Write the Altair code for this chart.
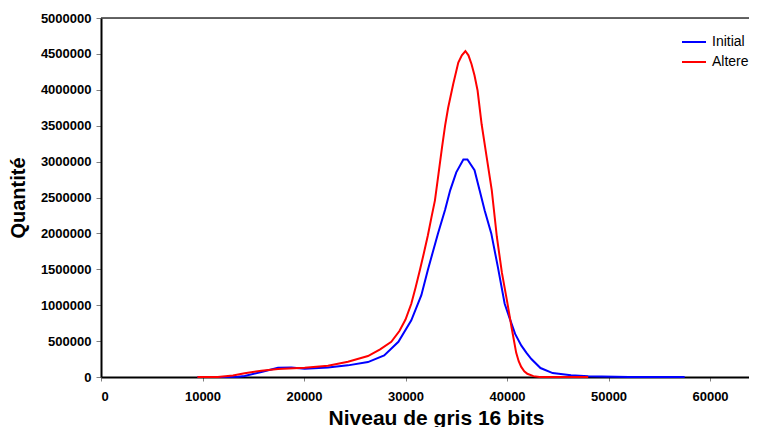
import altair as alt
import pandas as pd

# Grey level (16 bits) and counts
initial_x = [9500, 12000, 13500, 14150, 15800, 17440, 18750, 20070, 22360, 24330,
             26300, 27900, 29300, 30570, 31560, 32200, 33200, 33900, 34400, 35000,
             35700, 36100, 36800, 37300, 37800, 38450, 39100, 39770, 40400, 40800,
             41400, 41900, 42400, 43300, 44500, 46300, 48000, 52000, 57500]
initial_y = [0, 0, 5000, 14000, 70000, 128000, 132000, 116000, 134000, 162000,
             208000, 301000, 490000, 790000, 1140000, 1490000, 2000000, 2330000, 2600000, 2850000,
             3030000, 3030000, 2880000, 2600000, 2320000, 2000000, 1530000, 1020000, 760000, 600000,
             440000, 340000, 250000, 125000, 55000, 24000, 10000, 0, 0]

altere_x = [9500, 11500, 13000, 14150, 15800, 17440, 20070, 22360, 24330, 26300,
            27500, 28600, 29400, 30000, 30570, 31000, 31400, 31800, 32200, 32550,
            32900, 33250, 33600, 33900, 34200, 34700, 35200, 35550, 35900, 36200,
            36500, 36800, 37100, 37500, 38000, 38500, 39000, 39500, 40000, 40450,
            40900, 41150, 41400, 41700, 42000, 42600, 43200, 45000, 48000]
altere_y = [0, 0, 20000, 51000, 88000, 111000, 130000, 157000, 213000, 292000,
            385000, 490000, 640000, 800000, 1020000, 1250000, 1480000, 1720000, 1970000, 2220000,
            2460000, 2830000, 3200000, 3500000, 3750000, 4080000, 4380000, 4480000, 4540000, 4480000,
            4360000, 4200000, 3990000, 3520000, 3060000, 2600000, 1950000, 1450000, 1060000, 690000,
            340000, 220000, 140000, 80000, 45000, 12000, 0, 0, 0]

series_names = ["Initial", "Altere"]
series_colors = ["#0000FF", "#FF0000"]
x_ticks = [0, 10000, 20000, 30000, 40000, 50000, 60000]
y_ticks = [0, 500000, 1000000, 1500000, 2000000, 2500000, 3000000, 3500000, 4000000, 4500000, 5000000]

df_init = pd.DataFrame({"x": initial_x, "y": initial_y, "s": "Initial"})
df_alt = pd.DataFrame({"x": altere_x, "y": altere_y, "s": "Altere"})

FONT = "Liberation Sans"
W = 648

xenc = alt.X("x:Q", scale=alt.Scale(domain=[0, 63840], nice=False, zero=False),
             axis=alt.Axis(title="Niveau de gris 16 bits", values=x_ticks, format="d",
                           grid=False, domainColor="black", domainWidth=2,
                           tickColor="#808080", tickSize=4, labelPadding=9,
                           labelOverlap=False,
                           labelFont=FONT, labelFontSize=13, labelFontWeight="bold",
                           labelColor="black",
                           titleFont=FONT, titleFontSize=21, titleFontWeight="bold",
                           titleColor="black", titlePadding=4, titleX=335))
yenc = alt.Y("y:Q", scale=alt.Scale(domain=[0, 5000000], nice=False),
             axis=alt.Axis(title="Quantité", values=y_ticks, format="d",
                           grid=False, domainColor="black", domainWidth=2,
                           tickColor="#808080", tickSize=5, labelPadding=5,
                           labelOverlap=False,
                           labelFont=FONT, labelFontSize=13, labelFontWeight="bold",
                           labelColor="black",
                           titleFont=FONT, titleFontSize=20, titleFontWeight="bold",
                           titleColor="black", titlePadding=12))
cenc = alt.Color("s:N", scale=alt.Scale(domain=series_names, range=series_colors),
                 legend=alt.Legend(title=None, orient="none", legendX=580, legendY=11,
                                   symbolType="stroke", symbolSize=576, symbolStrokeWidth=2,
                                   labelFont=FONT, labelFontSize=14, labelColor="black",
                                   labelOffset=5, rowPadding=0))

l1 = alt.Chart(df_init).mark_line(strokeWidth=2).encode(x=xenc, y=yenc, color=cenc)
l2 = alt.Chart(df_alt).mark_line(strokeWidth=2).encode(x=xenc, y=yenc, color=cenc)

top_line = alt.Chart(pd.DataFrame({"t": [0]})).mark_rule(
    color="#333333", strokeWidth=1.5).encode(
    x=alt.value(0), x2=alt.value(W), y=alt.value(0))

chart = alt.layer(l1, l2, top_line).properties(
    width=W, height=359,
    autosize=alt.AutoSizeParams(type="none"),
    padding={"left": 93, "top": 10, "right": 0, "bottom": 50},
).configure_view(stroke=None).configure(background="white")

chart.save("out.html", embed_options={"renderer": "svg", "actions": False})
